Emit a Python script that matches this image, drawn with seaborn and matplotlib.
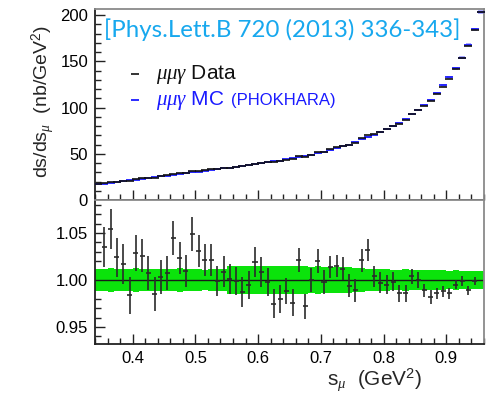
import numpy as np
import matplotlib
matplotlib.use("Agg")
import matplotlib.pyplot as plt
from matplotlib.ticker import MultipleLocator, FormatStrFormatter
import seaborn as sns

# Bin centres (GeV^2), bin width 0.01
s_top = [0.345, 0.355, 0.365, 0.375, 0.385, 0.395, 0.405, 0.415, 0.425, 0.435,
         0.445, 0.455, 0.465, 0.475, 0.485, 0.495, 0.505, 0.515, 0.525, 0.535,
         0.545, 0.555, 0.565, 0.575, 0.585, 0.595, 0.605, 0.615, 0.625, 0.635,
         0.645, 0.655, 0.665, 0.675, 0.685, 0.695, 0.705, 0.715, 0.725, 0.735,
         0.745, 0.755, 0.765, 0.775, 0.785, 0.795, 0.805, 0.815, 0.825, 0.835,
         0.845, 0.855, 0.865, 0.875, 0.885, 0.895, 0.905, 0.915, 0.925, 0.935,
         0.945, 0.955]

# PHOKHARA MC differential cross section (nb/GeV^2)
mc_xs = [17.0, 17.8, 18.7, 19.5, 20.4, 21.2, 22.1, 22.9, 23.8, 24.6,
         25.5, 26.3, 27.2, 28.1, 28.9, 29.8, 30.7, 31.6, 32.4, 33.3,
         34.2, 35.1, 36.0, 36.9, 37.8, 38.7, 39.7, 40.7, 41.7, 42.7,
         43.8, 44.9, 46.2, 47.5, 48.9, 50.5, 52.3, 54.0, 56.0, 58.0,
         60.0, 62.5, 65.5, 68.3, 70.8, 73.8, 76.8, 80.0, 83.7, 87.7,
         92.5, 97.5, 103.0, 108.5, 116.0, 124.0, 132.5, 142.5, 154.0, 168.0,
         184.5, 203.5]

# Measured mu mu gamma differential cross section (nb/GeV^2)
data_xs = [17.0, 18.4, 19.7, 20.0, 20.7, 20.9, 22.7, 23.5, 24.0, 24.2,
           25.6, 26.5, 28.4, 28.7, 29.2, 31.3, 31.7, 32.3, 33.1, 33.3,
           34.5, 35.1, 35.9, 36.4, 37.6, 39.4, 40.0, 40.6, 40.7, 41.8,
           43.3, 43.8, 47.2, 46.2, 48.9, 51.5, 52.2, 54.8, 56.8, 58.7,
           59.6, 61.8, 66.9, 70.5, 71.1, 73.6, 76.4, 79.8, 82.5, 86.5,
           92.9, 97.5, 101.9, 106.5, 114.4, 122.5, 130.6, 141.8, 153.8, 166.2,
           184.3, 203.5]

# Relative MC systematic uncertainty per bin
mc_rel_err = [0.012, 0.012, 0.0125, 0.012, 0.0115, 0.012, 0.0125, 0.012, 0.0115, 0.012,
              0.012, 0.0115, 0.012, 0.0125, 0.012, 0.012, 0.0115, 0.011, 0.0115, 0.012,
              0.0115, 0.0145, 0.015, 0.0145, 0.015, 0.015, 0.0145, 0.015, 0.015, 0.0145,
              0.015, 0.0145, 0.015, 0.0145, 0.014, 0.0145, 0.014, 0.014, 0.0135, 0.014,
              0.0135, 0.013, 0.0125, 0.012, 0.012, 0.0115, 0.0115, 0.011, 0.011, 0.0115,
              0.011, 0.011, 0.0105, 0.0105, 0.011, 0.0105, 0.010, 0.0105, 0.010, 0.010,
              0.0095, 0.0095]

# Data / MC ratio
s_ratio = s_top[1:61]
ratio = [1.035, 1.054, 1.024, 1.017, 0.984, 1.029, 1.026, 1.007, 0.985, 1.003,
         1.007, 1.045, 1.023, 1.010, 1.049, 1.031, 1.021, 1.0215, 0.9986, 1.009,
         1.0007, 0.9986, 0.987, 0.995, 1.019, 1.0085, 0.998, 0.975, 0.980, 0.988,
         0.976, 1.021, 0.972, 1.000, 1.020, 0.998, 1.014, 1.015, 1.012, 0.994,
         0.989, 1.021, 1.032, 1.004, 0.997, 0.995, 0.998, 0.986, 0.986, 1.004,
         1.000, 0.989, 0.982, 0.986, 0.988, 0.986, 0.995, 0.999, 0.989, 0.999]
ratio_err = [0.021, 0.021, 0.021, 0.021, 0.0197, 0.019, 0.018, 0.018, 0.018, 0.018,
             0.018, 0.018, 0.017, 0.017, 0.018, 0.017, 0.017, 0.017, 0.016, 0.016,
             0.016, 0.015, 0.016, 0.015, 0.016, 0.016, 0.015, 0.015, 0.015, 0.014,
             0.014, 0.013, 0.013, 0.013, 0.013, 0.013, 0.012, 0.012, 0.012, 0.012,
             0.012, 0.012, 0.012, 0.011, 0.011, 0.010, 0.010, 0.009, 0.009, 0.008,
             0.008, 0.007, 0.007, 0.006, 0.006, 0.006, 0.005, 0.005, 0.005, 0.004]

half_bin = 0.005

sns.set_theme(style="ticks")
plt.rcParams["font.family"] = ["Liberation Sans", "DejaVu Sans"]
plt.rcParams["mathtext.fontset"] = "custom"
plt.rcParams["mathtext.rm"] = "Liberation Sans"
plt.rcParams["mathtext.it"] = "Liberation Serif:italic"
plt.rcParams["mathtext.bf"] = "Liberation Sans:bold"

W, H = 490, 397
fig = plt.figure(figsize=(W / 100, H / 100), dpi=100)
ax1 = fig.add_axes([95 / W, 1 - 200 / H, 389 / W, 191 / H])
ax2 = fig.add_axes([95 / W, 1 - 344 / H, 389 / W, 144 / H], sharex=ax1)

s_top_a = np.array(s_top)
mc_a = np.array(mc_xs)
err_a = np.array(mc_rel_err)

# --- upper panel: cross sections ---
ax1.bar(s_top_a, 2 * mc_a * err_a, bottom=mc_a * (1 - err_a), width=2 * half_bin * 0.85,
        color="#8c8cff", alpha=0.75, linewidth=0)
sns.scatterplot(x=s_top, y=mc_xs, marker="_", s=30, linewidth=1.3, color="#1a1aff",
                ax=ax1, label=r"$\mu\mu\gamma$ MC", zorder=3)
sns.scatterplot(x=s_top, y=data_xs, marker="_", s=26, linewidth=1.2, color="#111111",
                ax=ax1, label=r"$\mu\mu\gamma$ Data", zorder=4)

ax1.set_ylim(0, 206.5)
ax1.yaxis.set_major_locator(MultipleLocator(50))
ax1.yaxis.set_minor_locator(MultipleLocator(10))
ax1.tick_params(axis="x", labelbottom=False)

handles, labels = ax1.get_legend_handles_labels()
leg = ax1.legend(handles[::-1], labels[::-1], loc="upper left",
                 bbox_to_anchor=(129 / W, 1 - 63 / H), bbox_transform=fig.transFigure,
                 frameon=False, fontsize=15, handlelength=0.6, handletextpad=0.7,
                 labelspacing=0.15, borderpad=0, borderaxespad=0, markerscale=1.0)
leg.get_texts()[0].set_color("#111111")
leg.get_texts()[1].set_color("#1a1aff")
fig.text(231 / W, 1 - 101 / H, "(PHOKHARA)", color="#1a1aff", fontsize=12,
         ha="left", va="center")

fig.text(104 / W, 1 - 30 / H, "[Phys.Lett.B 720 (2013) 336-343]", color="#17a8ee",
         fontsize=17.3, family="Lato", ha="left", va="center")

# --- lower panel: data / MC ratio ---
s_r = np.array(s_ratio)
edges = np.append(s_top_a - half_bin, s_top_a[-1] + half_bin)
lo = np.append(1 - err_a, 1 - err_a[-1])
hi = np.append(1 + err_a, 1 + err_a[-1])
ax2.fill_between(edges, lo, hi, step="post", color="#0be30b", linewidth=0, zorder=1)
ax2.axhline(1.0, color="#1a1a1a", lw=1.0, zorder=2)
ax2.errorbar(s_r, ratio, yerr=ratio_err, xerr=half_bin * 0.8, fmt="none",
             ecolor="#2b2b2b", elinewidth=1.2, capsize=0, zorder=3)

ax2.set_ylim(0.932, 1.085)
ax2.yaxis.set_major_locator(MultipleLocator(0.05))
ax2.yaxis.set_minor_locator(MultipleLocator(0.01))
ax2.yaxis.set_major_formatter(FormatStrFormatter("%.2f"))

ax2.set_xlim(0.34, 0.96)
ax2.xaxis.set_major_locator(MultipleLocator(0.1))
ax2.xaxis.set_minor_locator(MultipleLocator(0.02))

for ax in (ax1, ax2):
    ax.set_xlabel("")
    ax.set_ylabel("")
    ax.grid(False)
    ax.tick_params(which="both", direction="in", top=False, right=False,
                   colors="#222222", labelsize=12, labelcolor="black", width=1.0)
    ax.tick_params(which="major", length=7, pad=5)
    ax.tick_params(which="minor", length=4)
    for side in ("left", "bottom"):
        ax.spines[side].set_color("#222222")
        ax.spines[side].set_linewidth(1.3)
    for side in ("top", "right"):
        ax.spines[side].set_visible(True)
        ax.spines[side].set_color("#8a8a8a")
        ax.spines[side].set_linewidth(1.3)

fig.text(43 / W, 1 - 101 / H, r"ds/ds$_{\mu}$  (nb/GeV$^{2}$)", rotation=90,
         fontsize=14, ha="center", va="center")
fig.text(375 / W, 1 - 380 / H, r"s$_{\mu}$  (GeV$^{2}$)", fontsize=15,
         ha="center", va="center")

fig.savefig("out.png", dpi=100)
